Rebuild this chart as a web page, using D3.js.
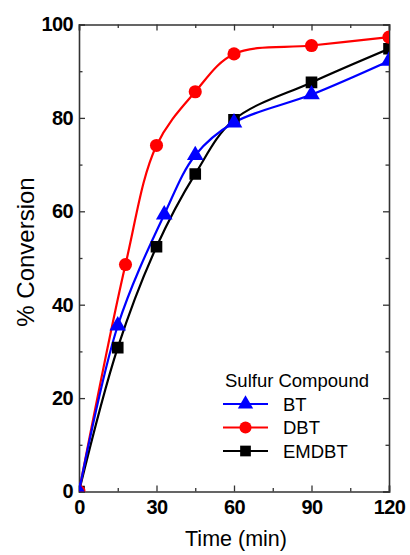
<!DOCTYPE html>
<html>
<head>
<meta charset="utf-8">
<script src="https://cdn.jsdelivr.net/npm/d3@7"></script>
<style>
  body { margin: 0; background: #fff; }
  text { font-family: "Liberation Sans", Arial, sans-serif; }
</style>
</head>
<body>
<div id="chart"></div>
<script>
// values
var timeBT = [0, 15, 33, 45, 60, 90, 120];
var convBT = [0, 35.5, 59.3, 72, 79, 85, 92.2];
var timeDBT = [0, 18, 30, 45, 60, 90, 120];
var convDBT = [0, 48.6, 74.1, 85.6, 93.7, 95.5, 97.3];
var timeEMDBT = [0, 15, 30, 45, 60, 90, 120];
var convEMDBT = [0, 30.8, 52.4, 68, 79.6, 87.6, 94.8];
var seriesNames = ['BT', 'DBT', 'EMDBT'];
var xTicks = [0, 30, 60, 90, 120];
var yTicks = [0, 20, 40, 60, 80, 100];

(function(){
    var W = 410, H = 555;
    var pL = 79, pR = 389, pT = 24.5, pB = 491.5;

    var svg = d3.select('#chart').append('svg').attr('width', W).attr('height', H);

    var x = d3.scaleLinear().domain([0, 120]).range([pL, pR]);
    var y = d3.scaleLinear().domain([0, 100]).range([pB, pT]);

    svg.append('clipPath').attr('id', 'plotclip').append('rect')
        .attr('x', pL).attr('y', pT).attr('width', pR - pL).attr('height', pB - pT);

    // frame + ticks (all pointing inward)
    var axisCol = '#333';
    function addAxis(axis, tx, ty){
        var g = svg.append('g').attr('transform', 'translate(' + tx + ',' + ty + ')').call(axis);
        g.select('.domain').attr('stroke', axisCol).attr('stroke-width', 1.6);
        g.selectAll('.tick line').attr('stroke', axisCol).attr('stroke-width', 1.3);
        return g;
    }
    var xMinor = d3.range(15, 120, 30);
    var yMinor = d3.range(10, 100, 20);

    var gx = addAxis(d3.axisBottom(x).tickValues(xTicks).tickSize(-6).tickFormat(d3.format('d')), 0, pB);
    gx.selectAll('text').attr('font-size', 20).attr('font-weight', 'bold').attr('fill', '#000')
        .attr('y', 8).attr('letter-spacing', '-0.6');
    addAxis(d3.axisBottom(x).tickValues(xMinor).tickSize(-3.5).tickFormat(''), 0, pB).select('.domain').remove();

    addAxis(d3.axisTop(x).tickValues(xTicks).tickSize(-6).tickFormat(''), 0, pT);
    addAxis(d3.axisTop(x).tickValues(xMinor).tickSize(-3.5).tickFormat(''), 0, pT).select('.domain').remove();

    var gy = addAxis(d3.axisLeft(y).tickValues(yTicks).tickSize(-6).tickFormat(d3.format('d')), pL, 0);
    gy.selectAll('text').attr('font-size', 20).attr('font-weight', 'bold').attr('fill', '#000')
        .attr('x', -6).attr('letter-spacing', '-0.6');
    addAxis(d3.axisLeft(y).tickValues(yMinor).tickSize(-3.5).tickFormat(''), pL, 0).select('.domain').remove();

    addAxis(d3.axisRight(y).tickValues(yTicks).tickSize(-6).tickFormat(''), pR, 0);
    addAxis(d3.axisRight(y).tickValues(yMinor).tickSize(-3.5).tickFormat(''), pR, 0).select('.domain').remove();

    // axis titles
    svg.append('text').attr('x', (pL + pR) / 2 + 2).attr('y', 546)
        .attr('text-anchor', 'middle').attr('font-size', 21.5).text('Time (min)');
    svg.append('text').attr('transform', 'translate(34,252) rotate(-90)')
        .attr('text-anchor', 'middle').attr('font-size', 24).text('% Conversion');

    // series
    var series = [
        {name: seriesNames[0], t: timeBT, v: convBT, color: '#0000ff', sym: d3.symbolTriangle, size: 120},
        {name: seriesNames[1], t: timeDBT, v: convDBT, color: '#ff0000', sym: d3.symbolCircle, size: 135},
        {name: seriesNames[2], t: timeEMDBT, v: convEMDBT, color: '#000000', sym: d3.symbolSquare, size: 135}
    ];

    var line = d3.line().x(function(d){ return x(d[0]); }).y(function(d){ return y(d[1]); })
        .curve(d3.curveCatmullRom.alpha(0.5));

    var plot = svg.append('g').attr('clip-path', 'url(#plotclip)');

    [2, 1, 0].forEach(function(i){
        var s = series[i];
        var pts = s.t.map(function(t, k){ return [t, s.v[k]]; });
        plot.append('path').datum(pts).attr('d', line)
            .attr('fill', 'none').attr('stroke', s.color).attr('stroke-width', 2.2);
    });
    [2, 1, 0].forEach(function(i){
        var s = series[i];
        var pts = s.t.map(function(t, k){ return [t, s.v[k]]; });
        plot.selectAll('.m' + i).data(pts).enter().append('path')
            .attr('transform', function(d){ return 'translate(' + x(d[0]) + ',' + y(d[1]) + ')'; })
            .attr('d', d3.symbol().type(s.sym).size(s.size))
            .attr('fill', s.color);
    });

    // legend
    var lg = svg.append('g');
    lg.append('text').attr('x', 225).attr('y', 387).attr('font-size', 18.5).text('Sulfur Compound');
    series.forEach(function(s, i){
        var cy = 404 + i * 23.5;
        lg.append('line').attr('x1', 223).attr('x2', 268).attr('y1', cy).attr('y2', cy)
            .attr('stroke', s.color).attr('stroke-width', 2.2);
        lg.append('path').attr('transform', 'translate(245.5,' + cy + ')')
            .attr('d', d3.symbol().type(s.sym).size(s.size * 0.85)).attr('fill', s.color);
        lg.append('text').attr('x', 283).attr('y', cy + 6.5).attr('font-size', 18.5).text(s.name);
    });
})();
</script>
</body>
</html>
